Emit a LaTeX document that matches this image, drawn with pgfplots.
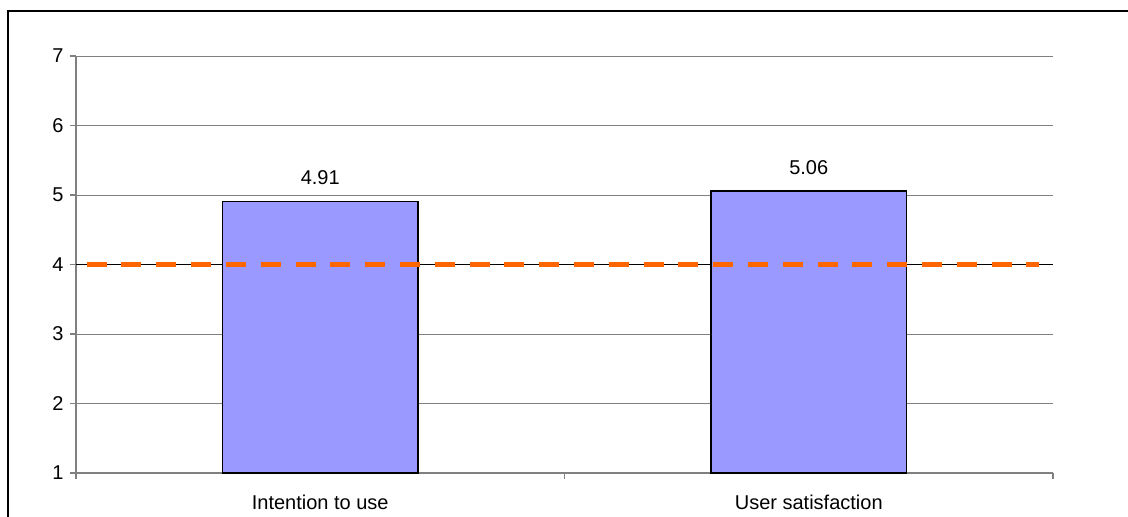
\documentclass[border=0pt]{standalone}
\usepackage{pgfplots}
\pgfplotsset{compat=1.18}
\usepackage{fontspec}
\setmainfont{Liberation Sans}
\definecolor{barblue}{HTML}{9999FF}
\definecolor{dashorange}{HTML}{FF6600}
\definecolor{axgray}{HTML}{808080}
\begin{document}
\begin{tikzpicture}
\useasboundingbox (0,0) rectangle (564pt,258pt);
\draw[line width=0.9pt, black] (4pt,-2pt) -- (4pt,252.5pt) -- (566pt,252.5pt);
\begin{axis}[
  at={(38pt,21.5pt)}, anchor=south west,
  scale only axis, width=488.5pt, height=208.5pt,
  xmin=0, xmax=2, ymin=1, ymax=7,
  ytick={1,2,3,4,5,6,7},
  xtick={0,1,2}, xticklabels={,,},
  extra x ticks={0.5,1.5},
  extra x tick labels={Intention to use, User satisfaction},
  extra x tick style={tick style={draw=none}, xticklabel style={yshift=-4.5pt}},
  axis x line*=bottom, axis y line*=left,
  axis line style={draw=axgray, line width=0.75pt},
  tick style={draw=axgray, line width=0.75pt},
  tick align=outside, major tick length=2.75pt,
  ymajorgrids, grid style={draw=axgray, line width=0.5pt},
  /pgf/number format/assume math mode=true,
  ticklabel style={font=\fontsize{10}{12}\selectfont, text=black},
  clip=false,
]
\addplot[black, line width=0.5pt] coordinates {(0,4) (2,4)};
\addplot[ybar, bar width=97.75pt, fill=barblue, draw=black, line width=0.75pt,
  nodes near coords={\pgfmathprintnumber[fixed,fixed zerofill,precision=2]{\pgfplotspointmeta}},
  every node near coord/.append style={font=\fontsize{10}{12}\selectfont, text=black, yshift=4.4pt}]
  coordinates {(0.5,4.91) (1.5,5.06)};
\addplot[dashorange, line width=2.3pt, dash pattern=on 10pt off 7.4pt] coordinates {(0.0219,4) (1.9705,4)};
\end{axis}
\end{tikzpicture}
\end{document}
